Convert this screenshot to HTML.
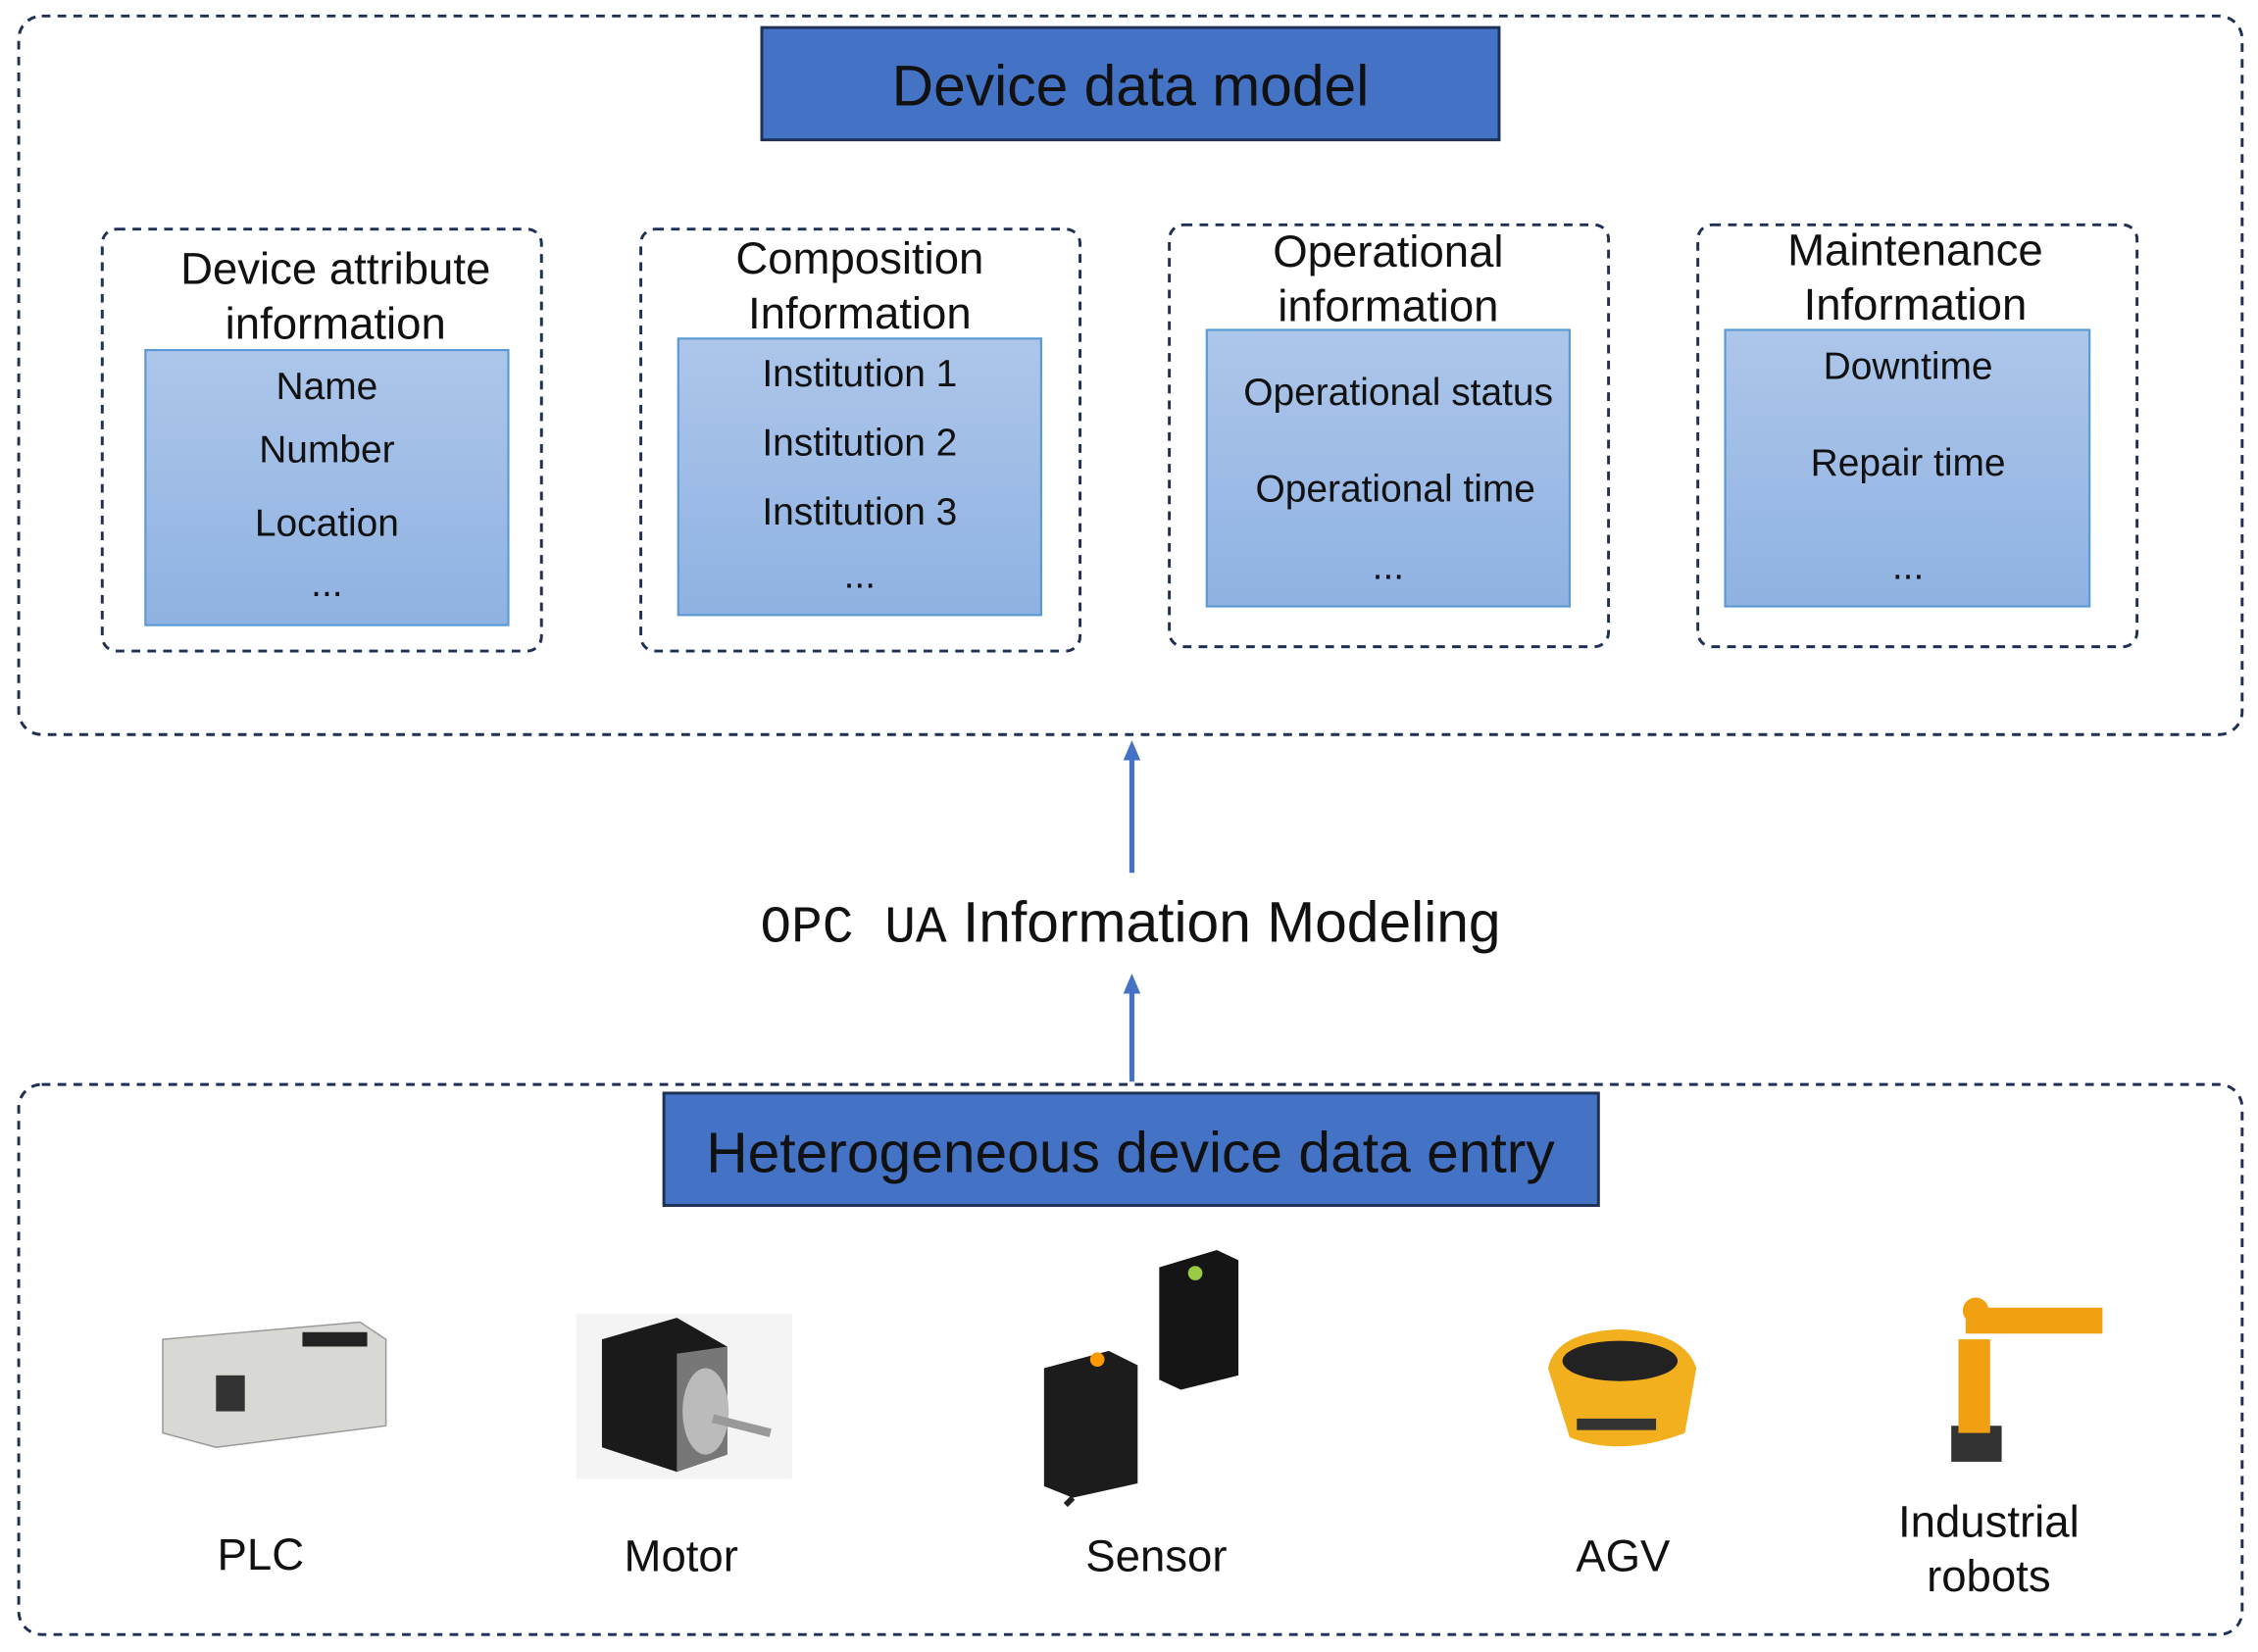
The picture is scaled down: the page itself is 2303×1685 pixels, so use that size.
<!DOCTYPE html>
<html><head><meta charset="utf-8"><style>html,body{margin:0;padding:0;background:#fff}svg{display:block}</style></head><body>
<svg width="2303" height="1685" viewBox="0 0 1568 1147" xmlns="http://www.w3.org/2000/svg" font-family="Liberation Sans, sans-serif">
<defs>
<linearGradient id="g" x1="0" y1="0" x2="0" y2="1"><stop offset="0" stop-color="#adc6ea"/><stop offset="1" stop-color="#8fb2e2"/></linearGradient>
<marker id="ah" markerUnits="userSpaceOnUse" markerWidth="14" markerHeight="14" refX="2" refY="7" orient="auto"><path d="M0,1 L14,7 L0,13 Z" fill="#4472C4"/></marker>
</defs>
<g fill="none" stroke="#1f2f55" stroke-width="2" stroke-dasharray="6,5">
<rect x="13" y="11" width="1544" height="499" rx="16"/>
<rect x="13" y="753" width="1544" height="382" rx="16"/>
<rect x="71" y="159" width="305" height="293" rx="10"/>
<rect x="445" y="159" width="305" height="293" rx="10"/>
<rect x="812" y="156" width="305" height="293" rx="10"/>
<rect x="1179" y="156" width="305" height="293" rx="10"/>
</g>
<rect x="529" y="19" width="512" height="78" fill="#4472C4" stroke="#1f3055" stroke-width="2"/>
<text x="785" y="73" font-size="40" text-anchor="middle" fill="#111">Device data model</text>
<rect x="461" y="759" width="649" height="78" fill="#4472C4" stroke="#1f3055" stroke-width="2"/>
<text x="785" y="814" font-size="40" text-anchor="middle" fill="#111">Heterogeneous device data entry</text>
<g stroke="#5b9bd5" stroke-width="1.5" fill="url(#g)">
<rect x="101" y="243" width="252" height="191"/>
<rect x="471" y="235" width="252" height="192"/>
<rect x="838" y="229" width="252" height="192"/>
<rect x="1198" y="229" width="253" height="192"/>
</g>
<g font-size="31" text-anchor="middle" fill="#111">
<text x="233" y="197">Device attribute</text><text x="233" y="235">information</text>
<text x="597" y="190">Composition</text><text x="597" y="228">Information</text>
<text x="964" y="185">Operational</text><text x="964" y="223">information</text>
<text x="1330" y="184">Maintenance</text><text x="1330" y="222">Information</text>
</g>
<g font-size="26.5" text-anchor="middle" fill="#111">
<text x="227" y="277">Name</text><text x="227" y="321">Number</text><text x="227" y="372">Location</text><text x="227" y="414">...</text>
<text x="597" y="268">Institution 1</text><text x="597" y="316">Institution 2</text><text x="597" y="364">Institution 3</text><text x="597" y="408">...</text>
<text x="971" y="281">Operational status</text><text x="969" y="348">Operational time</text><text x="964" y="402">...</text>
<text x="1325" y="263">Downtime</text><text x="1325" y="330">Repair time</text><text x="1325" y="402">...</text>
</g>
<g stroke="#4472C4" stroke-width="3.5">
<line x1="786" y1="606" x2="786" y2="526" marker-end="url(#ah)"/>
<line x1="786" y1="751" x2="786" y2="688" marker-end="url(#ah)"/>
</g>
<text x="785" y="654" font-size="40" text-anchor="middle" fill="#111"><tspan font-family="Liberation Mono, monospace" font-size="36">OPC UA</tspan> Information Modeling</text>
<g font-size="31" text-anchor="middle" fill="#111">
<text x="181" y="1090">PLC</text><text x="473" y="1091">Motor</text><text x="803" y="1091">Sensor</text><text x="1127" y="1091">AGV</text>
<text x="1381" y="1067">Industrial</text><text x="1381" y="1105">robots</text>
</g>
<!-- PLC -->
<path d="M113,930 L250,918 L268,930 L268,990 L150,1005 L113,995 Z" fill="#d8d8d4" stroke="#999"/>
<rect x="150" y="955" width="20" height="25" fill="#333"/>
<rect x="210" y="925" width="45" height="10" fill="#222"/>
<!-- Motor -->
<rect x="400" y="912" width="150" height="115" fill="#f4f4f4"/>
<path d="M418,930 L470,915 L505,935 L505,1010 L470,1022 L418,1005 Z" fill="#1a1a1a"/>
<path d="M470,940 L505,935 L505,1010 L470,1022 Z" fill="#777"/>
<ellipse cx="490" cy="980" rx="16" ry="30" fill="#bbb"/>
<line x1="495" y1="985" x2="535" y2="995" stroke="#999" stroke-width="6"/>
<!-- Sensor -->
<path d="M805,880 L845,868 L860,875 L860,955 L820,965 L805,958 Z" fill="#151515"/>
<circle cx="830" cy="884" r="5" fill="#9c4"/>
<path d="M725,950 L770,938 L790,948 L790,1030 L745,1040 L725,1032 Z" fill="#1c1c1c"/>
<circle cx="762" cy="944" r="5" fill="#f90"/>
<line x1="745" y1="1040" x2="740" y2="1045" stroke="#222" stroke-width="4"/>
<!-- AGV -->
<path d="M1075,950 Q1080,925 1125,923 Q1170,925 1178,950 L1170,995 Q1125,1012 1090,998 Z" fill="#f2b01e"/>
<ellipse cx="1125" cy="945" rx="40" ry="14" fill="#222"/>
<rect x="1095" y="985" width="55" height="8" fill="#333"/>
<!-- Robot -->
<g fill="#f0a010">
<rect x="1355" y="990" width="35" height="25" fill="#333"/>
<rect x="1360" y="930" width="22" height="65"/>
<rect x="1365" y="908" width="95" height="18"/>
<circle cx="1372" cy="910" r="9"/>
</g>
</svg>
</body></html>
